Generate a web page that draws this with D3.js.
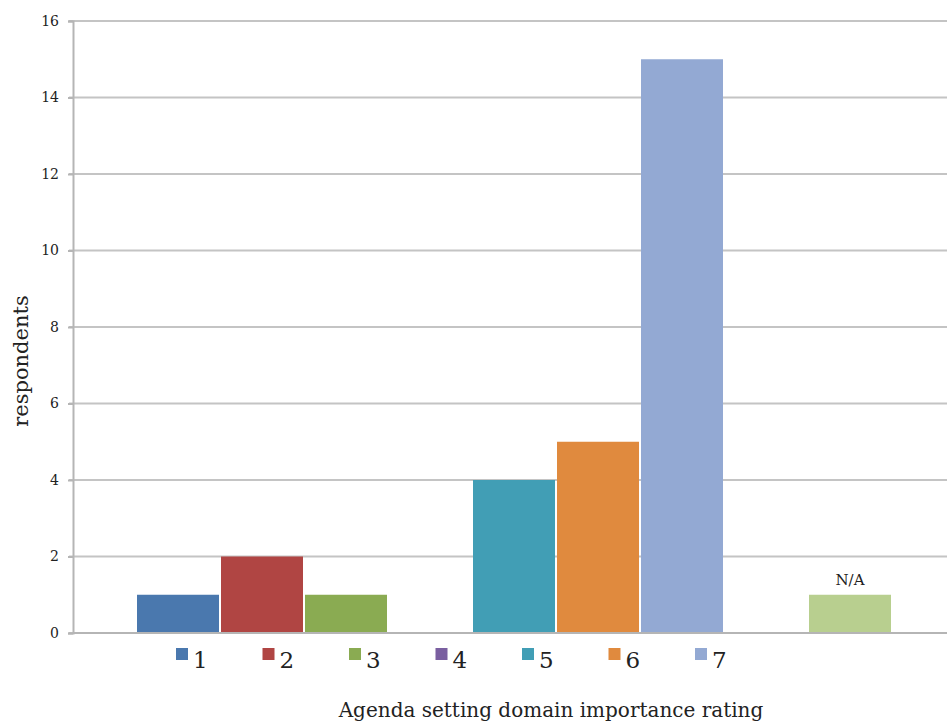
<!DOCTYPE html>
<html>
<head>
<meta charset="utf-8">
<script src="https://cdn.jsdelivr.net/npm/d3@7"></script>
<style>
  html, body { margin: 0; padding: 0; background: #fff; }
  svg { display: block; }
  text { font-family: "DejaVu Serif", "Liberation Serif", serif; fill: #222; }
</style>
</head>
<body>
<svg id="chart" width="947" height="722"></svg>
<script>
// Ratings 1–7 and their respondent counts
const ratings = ["1", "2", "3", "4", "5", "6", "7"];
const counts = [1, 2, 1, 0, 4, 5, 15];
const ratingColors = ["#4a78ae", "#b04543", "#8aab52", "#7a5fa0", "#419eb5", "#e08a3e", "#93a9d3"];

// Respondents who gave no rating
const naLabel = "N/A";
const naCount = 1;
const naColor = "#b8cf8f";

// Slots along the x axis: seven ratings, one empty slot, then N/A
const slots = [...ratings, "", naLabel];

const yTicks = [0, 2, 4, 6, 8, 10, 12, 14, 16];

const svg = d3.select("#chart");
const plot = { left: 73, right: 947, top: 21, bottom: 633 };

const y = d3.scaleLinear().domain([0, 16]).range([plot.bottom, plot.top]);
const x = d3.scaleBand().domain(slots).range([136, 892]).paddingInner(0.024).paddingOuter(0.012);

// Horizontal gridlines
svg.append("g")
  .selectAll("line")
  .data(yTicks)
  .join("line")
  .attr("x1", plot.left - 4)
  .attr("x2", plot.right)
  .attr("y1", d => y(d))
  .attr("y2", d => y(d))
  .attr("stroke", "#c4c4c4")
  .attr("stroke-width", 2);

// Y axis
const yAxis = svg.append("g")
  .attr("transform", `translate(${plot.left},0)`)
  .call(d3.axisLeft(y).tickValues(yTicks).tickSize(5).tickPadding(9));
yAxis.attr("font-family", null).attr("font-size", null);
yAxis.select(".domain").attr("stroke", "#b5b5b5").attr("stroke-width", 2);
yAxis.selectAll(".tick line").attr("stroke", "#b5b5b5").attr("stroke-width", 2);
yAxis.selectAll(".tick text")
  .attr("font-size", 14)
  .attr("fill", "#222");

// Rating bars
const ratingData = ratings.map((r, i) => ({ key: r, value: counts[i], color: ratingColors[i] }));
svg.append("g")
  .selectAll("rect")
  .data(ratingData.filter(d => d.value > 0))
  .join("rect")
  .attr("x", d => x(d.key))
  .attr("width", x.bandwidth())
  .attr("y", d => y(d.value))
  .attr("height", d => y(0) - y(d.value))
  .attr("fill", d => d.color);

// N/A bar with its label
svg.append("rect")
  .attr("x", x(naLabel))
  .attr("width", x.bandwidth())
  .attr("y", y(naCount))
  .attr("height", y(0) - y(naCount))
  .attr("fill", naColor);

svg.append("text")
  .attr("x", x(naLabel) + x.bandwidth() / 2)
  .attr("y", y(naCount) - 10)
  .attr("text-anchor", "middle")
  .attr("font-size", 15)
  .text(naLabel);

// Baseline drawn over the bars
svg.append("line")
  .attr("x1", plot.left).attr("x2", plot.right)
  .attr("y1", y(0)).attr("y2", y(0))
  .attr("stroke", "#b5b5b5").attr("stroke-width", 2);

// Legend under the axis
const legendStep = 86.5;
const legend = svg.append("g").attr("transform", "translate(176,648)");
const item = legend.selectAll("g")
  .data(ratingData)
  .join("g")
  .attr("transform", (d, i) => `translate(${i * legendStep},0)`);
item.append("rect")
  .attr("width", 12).attr("height", 12)
  .attr("fill", d => d.color);
item.append("text")
  .attr("x", 17).attr("y", 20)
  .attr("font-size", 23)
  .text(d => d.key);

// Axis titles
svg.append("text")
  .attr("x", 551).attr("y", 717)
  .attr("text-anchor", "middle")
  .attr("font-size", 20)
  .text("Agenda setting domain importance rating");

svg.append("text")
  .attr("transform", "translate(28,361) rotate(-90)")
  .attr("text-anchor", "middle")
  .attr("font-size", 21)
  .text("respondents");
</script>
</body>
</html>
